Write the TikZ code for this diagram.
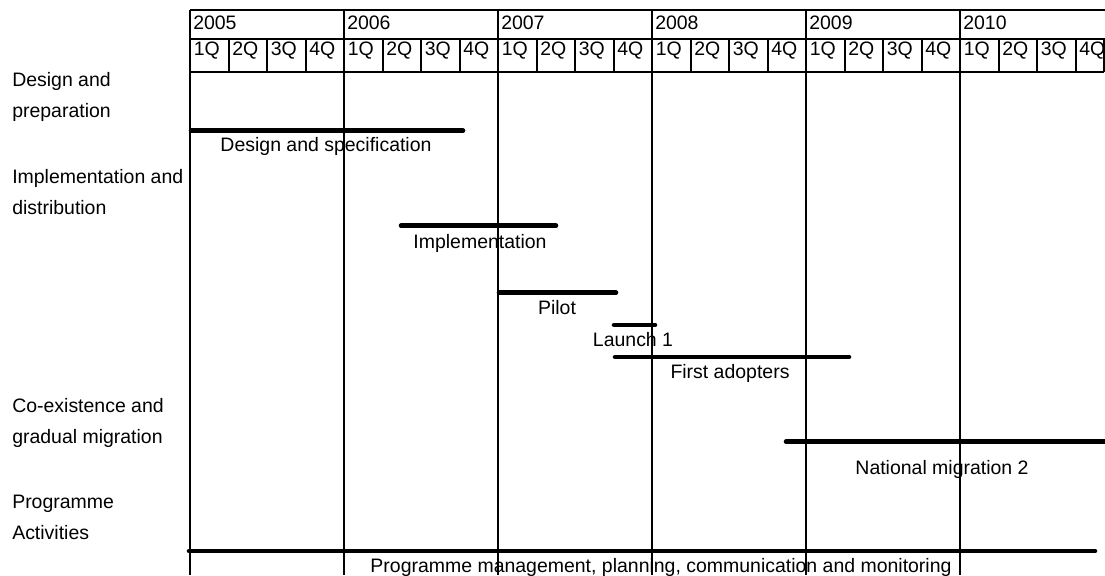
\documentclass[tikz,border=0pt]{standalone}
\usepackage{fontspec}
\setmainfont{Liberation Sans}
\usetikzlibrary{positioning}

\begin{document}
\begin{tikzpicture}[x=0.75pt,y=-0.75pt,
        every node/.style={inner sep=0pt,font=\fontsize{14.6}{23.25}\selectfont},
        headline/.style={line width=1.5pt},
        gridline/.style={line width=1.1pt},
        taskbar/.style={line width=3.4pt,line cap=round},
        rowlabel/.style={anchor=base west,align=left},
        barlabel/.style={anchor=base}]
            \useasboundingbox (0,0) rectangle (1105,575);
            \clip (0,0) rectangle (1105,575);

            % header: years and quarters
            \draw [headline] (190,9.5) -- (1105,9.5);
            \draw [headline] (190,39) -- (1105,39);
            \draw [headline] (190,72) -- (1104,72);
            \draw [headline] (1104,39) -- (1104,72);
            \foreach \yr [count=\i from 0] in {2005,...,2010} {
                \draw [headline] (190+154*\i,9.5) -- (190+154*\i,72);
                \draw [gridline] (190+154*\i,72) -- (190+154*\i,575);
                \node [anchor=base west] (y\yr) at (193+154*\i,29) {\yr};
                \foreach \q in {1,...,4} {
                    \draw [headline] (190+154*\i+38.5*\q-38.5,39) -- (190+154*\i+38.5*\q-38.5,72);
                    \node [anchor=base west] (q\yr-\q) at (193.5+154*\i+38.5*\q-38.5,55) {\q Q};
                }
            }

            % rows (base = last line)
            \node [rowlabel] (design) at (12,117) {Design and\\preparation};
            \node [rowlabel] (impl) at (12,214) {Implementation and\\distribution};
            \node [rowlabel] (coexist) at (12,443) {Co-existence and\\gradual migration};
            \node [rowlabel] (progact) at (12,539) {Programme\\Activities};

            % bars
            \draw [taskbar] (191,130.7) -- (463,130.7);
            \node [barlabel] (spec) at (326,151) {Design and specification};
            \draw [taskbar] (401,225.7) -- (556,225.7);
            \node [barlabel] (implement) at (480,248) {Implementation};
            \draw [taskbar] (499,292.7) -- (616,292.7);
            \node [barlabel] (pilot) at (557,314) {Pilot};
            \draw [taskbar] (614,325) -- (655,325);
            \node [barlabel] (launch) at (633,346) {Launch 1};
            \draw [taskbar] (615,357) -- (849,357);
            \node [barlabel] (adopters) at (730,378) {First adopters};
            \draw [taskbar] (786,441.7) -- (1110,441.7);
            \node [barlabel] (national) at (942,474) {National migration 2};
            \draw [taskbar] (189,551) -- (1095,551);
            \node [barlabel] (management) at (661,572) {Programme management, planning, communication and monitoring};
        \end{tikzpicture}
\end{document}
